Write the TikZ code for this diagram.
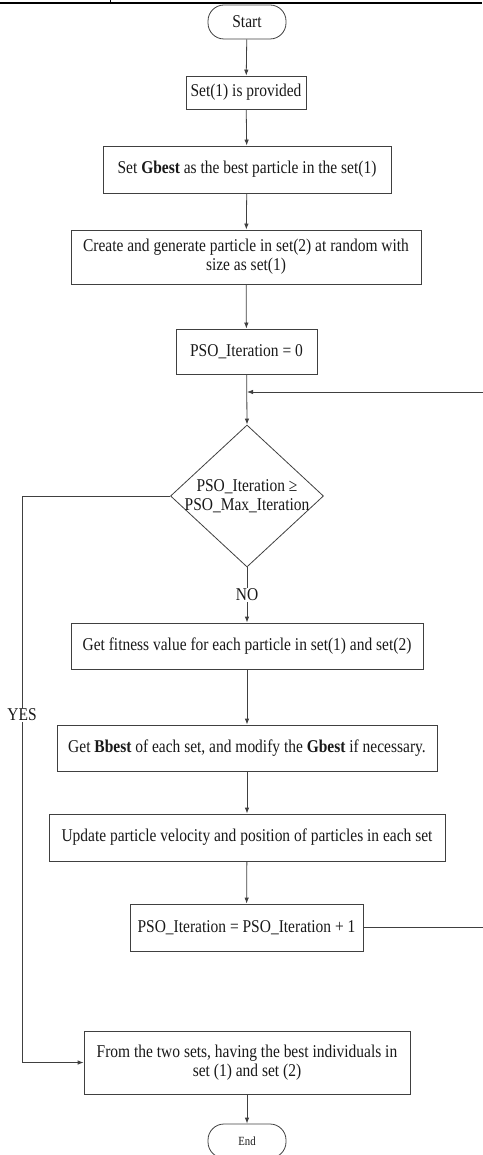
\documentclass[tikz,border=0pt]{standalone}
\usepackage{fontspec}
\setmainfont{Liberation Serif}[FakeStretch=0.86]
\usetikzlibrary{arrows.meta,shapes.geometric}
\begin{document}
\begin{tikzpicture}[x=1pt,y=-1pt,
  every node/.style={font=\fontsize{18}{22}\selectfont, text=black!90},
  box/.style={draw=black!75, line width=0.8pt, inner sep=0pt, align=center},
  term/.style={box, rounded corners=16pt, minimum width=78pt, minimum height=34pt},
  arr/.style={draw=black!75, line width=0.8pt, -{Latex[length=6pt,width=4.5pt]}},
  ln/.style={draw=black!75, line width=0.8pt}]
\useasboundingbox (0,0) rectangle (482,1155);
\draw[line width=1.6pt] (0,3) -- (482,3);
\draw[line width=1pt] (110,0) -- (110,3);

\node[term] (start) at (247,22) {Start};
\node[box, minimum width=120pt, minimum height=33pt] (s1) at (246,92.5) {Set(1) is provided};
\node[box, minimum width=288pt, minimum height=47pt] (gb) at (247,169.5) {Set \textbf{Gbest} as the best particle in the set(1)};
\node[box, minimum width=350pt, minimum height=54pt] (cr) at (246,257) {Create and generate particle in set(2) at random with\\[-3pt] size as set(1)};
\node[box, minimum width=141pt, minimum height=45pt] (p0) at (246.5,351.5) {PSO\_Iteration = 0};
\node[diamond, draw=black!75, line width=0.8pt, minimum width=153pt, minimum height=142pt, inner sep=0pt] (dec) at (247,496) {};
\node[align=center] (dect) at (dec.center) {PSO\_Iteration ≥\\[-3pt] PSO\_Max\_Iteration};
\node[box, minimum width=352pt, minimum height=46pt] (fit) at (247,646) {Get fitness value for each particle in set(1) and set(2)};
\node[box, minimum width=380pt, minimum height=46pt] (bb) at (247,748) {Get \textbf{Bbest} of each set, and modify the \textbf{Gbest} if necessary.};
\node[box, minimum width=396pt, minimum height=47pt] (up) at (247,837.5) {Update particle velocity and position of particles in each set};
\node[box, minimum width=233pt, minimum height=47pt] (p1) at (246.5,927.5) {PSO\_Iteration = PSO\_Iteration + 1};
\node[box, minimum width=326pt, minimum height=63pt] (fin) at (247,1062.5) {From the two sets, having the best individuals in\\[-3pt] set (1) and set (2)};
\node[term, font=\fontsize{12.5}{14}\selectfont] (end) at (247,1141) {End};

\coordinate (loopin) at (247,392);
\coordinate (rx) at (484,927.5);
\coordinate (yl) at (22,496);

\draw[arr] (start) -- (s1);
\draw[arr] (s1) -- (gb);
\draw[arr] (gb) -- (cr);
\draw[arr] (cr) -- (p0);
\draw[arr] (p0) -- (dec.north);
\draw[arr] (dec.south) -- node[fill=white, inner sep=1pt] (no) {NO} (fit);
\draw[arr] (fit) -- (bb);
\draw[arr] (bb) -- (up);
\draw[arr] (up) -- (p1);
\draw[arr] (p1.east) -- (rx) |- (loopin);
\draw[arr] (dec.west) -- (yl) |- (fin.west);
\node[fill=white, inner sep=1pt] (yes) at (22,715) {YES};
\draw[arr] (fin) -- (end);
\end{tikzpicture}
\end{document}
